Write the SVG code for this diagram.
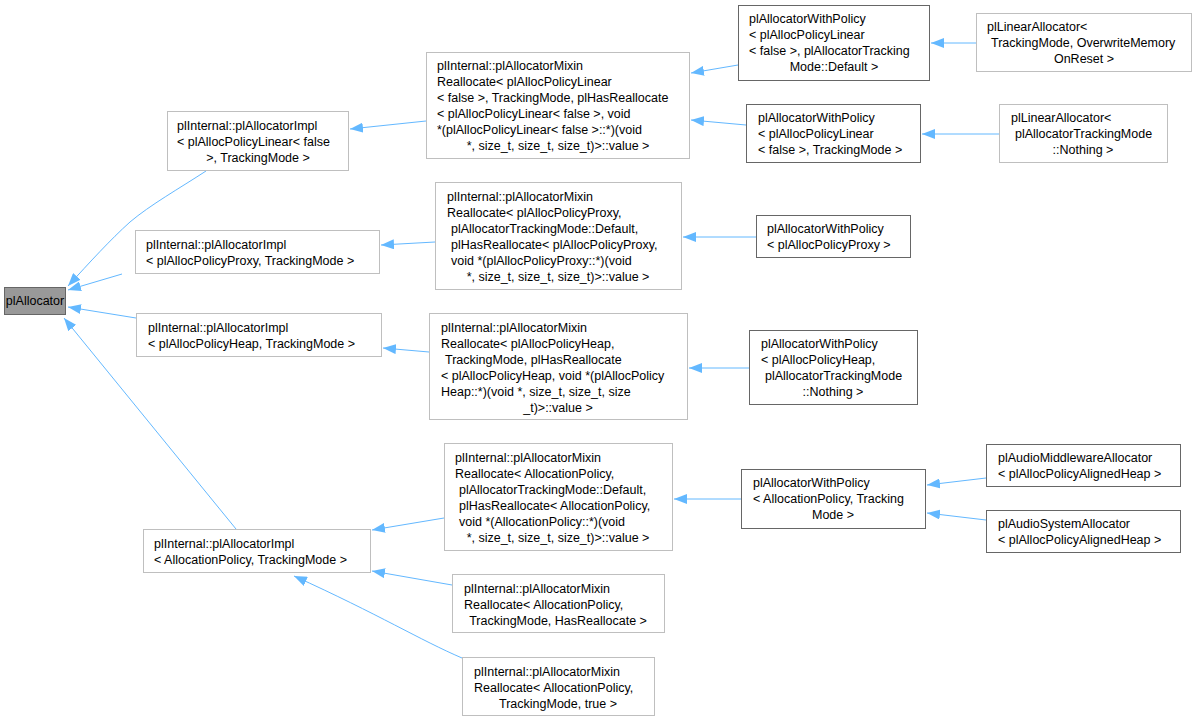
<svg xmlns="http://www.w3.org/2000/svg" width="1196" height="721" viewBox="0 0 1196 721">
<style>
text{font-family:"Liberation Sans",Arial,sans-serif;font-size:12.5px;fill:#000}
.c{text-anchor:middle}
.n rect{fill:#fff;stroke:#bfbfbf;stroke-width:1}
.d rect{stroke:#666}
.e path{fill:none;stroke:#63b8ff;stroke-width:1}
</style>
<defs>
<marker id="a" markerUnits="userSpaceOnUse" markerWidth="14" markerHeight="10" refX="13" refY="5" orient="auto">
<path d="M0,0 L13,5 L0,10 z" fill="#63b8ff"/>
</marker>
</defs>
<rect width="1196" height="721" fill="#fff"/>
<g class="e">
<path marker-end="url(#a)" d="M206,171 C180,188 150,205 130,222 C110,240 90,262 68,286"/>
<path marker-end="url(#a)" d="M122,274 L68,290"/>
<path marker-end="url(#a)" d="M136,318 L68,307"/>
<path marker-end="url(#a)" d="M236,529 L64,318"/>
<path marker-end="url(#a)" d="M426,121 L350,129"/>
<path marker-end="url(#a)" d="M435,242 L381,245"/>
<path marker-end="url(#a)" d="M429,352 L383,348"/>
<path marker-end="url(#a)" d="M444,518 L372,530"/>
<path marker-end="url(#a)" d="M452,585 L372,571"/>
<path marker-end="url(#a)" d="M462,658 C420,640 380,615 294,576"/>
<path marker-end="url(#a)" d="M738,65 L691,73"/>
<path marker-end="url(#a)" d="M746,125 L691,120"/>
<path marker-end="url(#a)" d="M756,237 L683,237"/>
<path marker-end="url(#a)" d="M749,368 L689,368"/>
<path marker-end="url(#a)" d="M741,499 L674,499"/>
<path marker-end="url(#a)" d="M976,43 L931,43"/>
<path marker-end="url(#a)" d="M999,134 L922,134"/>
<path marker-end="url(#a)" d="M986,478 L927,485"/>
<path marker-end="url(#a)" d="M986,520 L927,513"/>
</g>
<g id="plAllocator" class="n"><rect x="4.5" y="287.5" width="61" height="27" style="fill:#999;stroke:#666"/><text x="35" y="305" class="c">plAllocator</text></g>
<g id="impl1" class="n"><rect x="167.5" y="111.5" width="181" height="59"/><text x="177" y="130">plInternal::plAllocatorImpl</text><text x="177" y="146">&lt; plAllocPolicyLinear&lt; false</text><text x="258" y="162" class="c">&gt;, TrackingMode &gt;</text></g>
<g id="impl2" class="n"><rect x="135.5" y="230.5" width="244" height="43"/><text x="146" y="249">plInternal::plAllocatorImpl</text><text x="146" y="265">&lt; plAllocPolicyProxy, TrackingMode &gt;</text></g>
<g id="impl3" class="n"><rect x="136.5" y="313.5" width="245" height="43"/><text x="148" y="332">plInternal::plAllocatorImpl</text><text x="148" y="348">&lt; plAllocPolicyHeap, TrackingMode &gt;</text></g>
<g id="impl4" class="n"><rect x="143.5" y="529.5" width="227" height="43"/><text x="154" y="548">plInternal::plAllocatorImpl</text><text x="154" y="564">&lt; AllocationPolicy, TrackingMode &gt;</text></g>
<g id="mixin1" class="n"><rect x="426.5" y="52.5" width="263" height="106"/><text x="437" y="70">plInternal::plAllocatorMixin</text><text x="437" y="86">Reallocate&lt; plAllocPolicyLinear</text><text x="437" y="102">&lt; false &gt;, TrackingMode, plHasReallocate</text><text x="437" y="118">&lt; plAllocPolicyLinear&lt; false &gt;, void</text><text x="437" y="134"> *(plAllocPolicyLinear&lt; false &gt;::*)(void</text><text x="558" y="150" class="c">*, size_t, size_t, size_t)&gt;::value &gt;</text></g>
<g id="mixin2" class="n"><rect x="435.5" y="182.5" width="246" height="107"/><text x="447" y="201">plInternal::plAllocatorMixin</text><text x="447" y="217">Reallocate&lt; plAllocPolicyProxy,</text><text x="451" y="233">plAllocatorTrackingMode::Default,</text><text x="451" y="249">plHasReallocate&lt; plAllocPolicyProxy,</text><text x="451" y="265">void *(plAllocPolicyProxy::*)(void</text><text x="558" y="281" class="c">*, size_t, size_t, size_t)&gt;::value &gt;</text></g>
<g id="mixin3" class="n"><rect x="429.5" y="313.5" width="258" height="106"/><text x="441" y="332">plInternal::plAllocatorMixin</text><text x="441" y="348">Reallocate&lt; plAllocPolicyHeap,</text><text x="445" y="364">TrackingMode, plHasReallocate</text><text x="441" y="380">&lt; plAllocPolicyHeap, void *(plAllocPolicy</text><text x="441" y="396">Heap::*)(void *, size_t, size_t, size</text><text x="558" y="412" class="c">_t)&gt;::value &gt;</text></g>
<g id="mixin4" class="n"><rect x="444.5" y="443.5" width="228" height="107"/><text x="455" y="462">plInternal::plAllocatorMixin</text><text x="455" y="478">Reallocate&lt; AllocationPolicy,</text><text x="459" y="494">plAllocatorTrackingMode::Default,</text><text x="459" y="510">plHasReallocate&lt; AllocationPolicy,</text><text x="459" y="526">void *(AllocationPolicy::*)(void</text><text x="558" y="542" class="c">*, size_t, size_t, size_t)&gt;::value &gt;</text></g>
<g id="mixin5" class="n"><rect x="452.5" y="574.5" width="212" height="58"/><text x="464" y="593">plInternal::plAllocatorMixin</text><text x="464" y="609">Reallocate&lt; AllocationPolicy,</text><text x="558" y="625" class="c">TrackingMode, HasReallocate &gt;</text></g>
<g id="mixin6" class="n"><rect x="462.5" y="657.5" width="192" height="58"/><text x="474" y="676">plInternal::plAllocatorMixin</text><text x="474" y="692">Reallocate&lt; AllocationPolicy,</text><text x="558" y="708" class="c">TrackingMode, true &gt;</text></g>
<g id="wp1" class="n d"><rect x="738.5" y="5.5" width="191" height="75"/><text x="749" y="23">plAllocatorWithPolicy</text><text x="749" y="39">&lt; plAllocPolicyLinear</text><text x="749" y="55">&lt; false &gt;, plAllocatorTracking</text><text x="834" y="71" class="c">Mode::Default &gt;</text></g>
<g id="la1" class="n"><rect x="976.5" y="13.5" width="215" height="58"/><text x="987" y="31">plLinearAllocator&lt;</text><text x="991" y="47">TrackingMode, OverwriteMemory</text><text x="1084" y="63" class="c">OnReset &gt;</text></g>
<g id="wp2" class="n d"><rect x="746.5" y="104.5" width="174" height="58"/><text x="758" y="122">plAllocatorWithPolicy</text><text x="758" y="138">&lt; plAllocPolicyLinear</text><text x="758" y="154">&lt; false &gt;, TrackingMode &gt;</text></g>
<g id="la2" class="n"><rect x="999.5" y="104.5" width="168" height="58"/><text x="1011" y="122">plLinearAllocator&lt;</text><text x="1015" y="138">plAllocatorTrackingMode</text><text x="1083" y="154" class="c">::Nothing &gt;</text></g>
<g id="wp3" class="n d"><rect x="756.5" y="215.5" width="154" height="42"/><text x="767" y="233">plAllocatorWithPolicy</text><text x="767" y="249">&lt; plAllocPolicyProxy &gt;</text></g>
<g id="wp4" class="n d"><rect x="749.5" y="330.5" width="168" height="74"/><text x="761" y="348">plAllocatorWithPolicy</text><text x="761" y="364">&lt; plAllocPolicyHeap,</text><text x="765" y="380">plAllocatorTrackingMode</text><text x="833" y="396" class="c">::Nothing &gt;</text></g>
<g id="wp5" class="n d"><rect x="741.5" y="469.5" width="184" height="59"/><text x="753" y="487">plAllocatorWithPolicy</text><text x="753" y="503">&lt; AllocationPolicy, Tracking</text><text x="833" y="519" class="c">Mode &gt;</text></g>
<g id="audio1" class="n d"><rect x="986.5" y="444.5" width="194" height="42"/><text x="998" y="462">plAudioMiddlewareAllocator</text><text x="998" y="478">&lt; plAllocPolicyAlignedHeap &gt;</text></g>
<g id="audio2" class="n d"><rect x="986.5" y="510.5" width="194" height="42"/><text x="998" y="528">plAudioSystemAllocator</text><text x="998" y="544">&lt; plAllocPolicyAlignedHeap &gt;</text></g>
</svg>
